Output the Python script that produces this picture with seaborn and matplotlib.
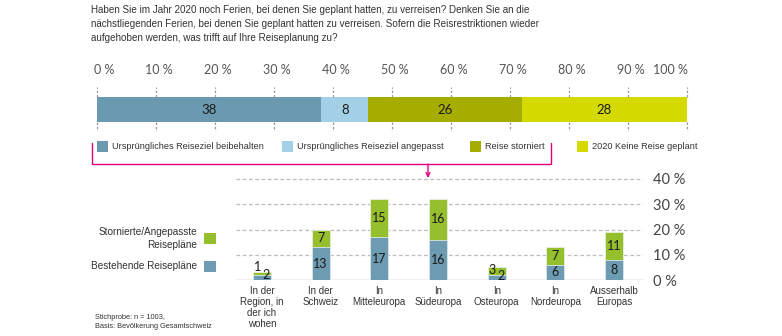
import numpy as np
import pandas as pd
import matplotlib
matplotlib.use("Agg")
import matplotlib.pyplot as plt
from matplotlib.patches import Rectangle
import seaborn as sns

# ---------------- data ----------------
title_text = ("Haben Sie im Jahr 2020 noch Ferien, bei denen Sie geplant hatten, zu verreisen? Denken Sie an die\n"
              "nächstliegenden Ferien, bei denen Sie geplant hatten zu verreisen. Sofern die Reisrestriktionen wieder\n"
              "aufgehoben werden, was trifft auf Ihre Reiseplanung zu?")
top_labels = ["Ursprüngliches Reiseziel beibehalten", "Ursprüngliches Reiseziel angepasst",
              "Reise storniert", "2020 Keine Reise geplant"]
top_values = [38, 8, 26, 28]
top_ticks = [0, 10, 20, 30, 40, 50, 60, 70, 80, 90, 100]

categories = ["In der\nRegion, in\nder ich\nwohen", "In der\nSchweiz", "In\nMitteleuropa", "In\nSüdeuropa",
              "In\nOsteuropa", "In\nNordeuropa", "Ausserhalb\nEuropas"]
bestehende = [2, 13, 17, 16, 2, 6, 8]
stornierte = [1, 7, 15, 16, 3, 7, 11]
bottom_ticks = [0, 10, 20, 30, 40]
legend_bottom = ["Stornierte/Angepasste\nReisepläne", "Bestehende Reisepläne"]
footnote = "Stichprobe: n = 1003,\nBasis: Bevölkerung Gesamtschweiz"

# ---------------- style ----------------
top_colors = ["#6b9ab0", "#a3d0e6", "#a6ac00", "#d4d900"]
c_blue = "#6d9bb1"
c_green = "#96bf2d"
pink = "#e6007e"
txt = "#333333"
W, H = 782, 336
# label nudges for the tiny bars: index -> (dx, y_green, y_blue) in data units
small_label_pos = {0: (0.068, 5.0, 1.9), 4: (0.075, 4.0, 1.5)}

sns.set_theme(style="white")
plt.rcParams["font.family"] = ["Liberation Sans Narrow", "Liberation Sans", "DejaVu Sans"]
NUM = ["Lato", "DejaVu Sans"]

fig = plt.figure(figsize=(W / 100, H / 100), dpi=100)


def fbox(x0, y0, x1, y1):
    return [x0 / W, 1 - y1 / H, (x1 - x0) / W, (y1 - y0) / H]


# ---------------- top stacked bar ----------------
ax_t = fig.add_axes(fbox(97, 97, 687, 122))
cum = np.cumsum(top_values)
for i in reversed(range(len(top_values))):
    sns.barplot(x=[cum[i]], y=[0], orient="h", color=top_colors[i], width=1.0,
                saturation=1, linewidth=0, ax=ax_t)
ax_t.set_xlim(0, 100)
ax_t.set_ylim(0.5, -0.5)
ax_t.axis("off")
for i, v in enumerate(top_values):
    ax_t.text(cum[i] - v / 2, 0, str(v), ha="center", va="center", fontsize=9.5,
              color="#1a1a1a", family=NUM)
for t in top_ticks:
    ax_t.plot([t, t], [-0.5, -0.92], color="#999999",
              lw=0.9, ls=(0, (2, 1.5)), clip_on=False)
    ax_t.plot([t, t], [0.5, 0.85], color="#999999",
              lw=0.9, ls=(0, (2, 1.5)), clip_on=False)

# ---------------- bottom stacked bars ----------------
ax_b = fig.add_axes(fbox(236, 280 - 42 * 2.525, 643, 280))
df = pd.DataFrame({"cat": categories, "best": bestehende, "storn": stornierte})
df["total"] = df["best"] + df["storn"]
sns.barplot(data=df, x="cat", y="total", color=c_green, width=0.31, saturation=1,
            linewidth=0.6, edgecolor="#e8efe0", ax=ax_b, zorder=3)
sns.barplot(data=df, x="cat", y="best", color=c_blue, width=0.31, saturation=1,
            linewidth=0.6, edgecolor="#dde8ee", ax=ax_b, zorder=3)
ax_b.set_xlim(-0.444, 6.495)
ax_b.set_ylim(0, 42)
for s in ax_b.spines.values():
    s.set_visible(False)
for y in bottom_ticks[1:]:
    ax_b.axhline(y, color="#bdbdbd", lw=0.9, ls=(0, (3, 2)), zorder=0)
ax_b.axhline(0, color="#b0b0b0", lw=1.0, zorder=1)
ax_b.yaxis.tick_right()
ax_b.set_yticks(bottom_ticks)
ax_b.set_yticklabels([f"{t} %" for t in bottom_ticks], fontsize=10.5, color="#444444", family=NUM)
ax_b.tick_params(axis="y", length=0, pad=7)
ax_b.set_xlabel("")
ax_b.set_ylabel("")
ax_b.set_xticks(range(len(categories)))
ax_b.set_xticklabels(categories, fontsize=7, color=txt, linespacing=1.15)
ax_b.tick_params(axis="x", length=0, pad=4)
ax_b.grid(False)

# value labels
for i in range(len(categories)):
    b, s = bestehende[i], stornierte[i]
    if i in small_label_pos:
        dx, yg, yb = small_label_pos[i]
        ax_b.text(i - dx, yg, str(s), ha="center", va="center", fontsize=9,
                  color="#1a1a1a", family=NUM, zorder=5)
        ax_b.text(i + dx, yb, str(b), ha="center", va="center", fontsize=9,
                  color="#1a1a1a", family=NUM, zorder=5)
    else:
        ax_b.text(i, b / 2, str(b), ha="center", va="center", fontsize=9,
                  color="#1a1a1a", family=NUM, zorder=5)
        ax_b.text(i, b + s / 2, str(s), ha="center", va="center", fontsize=9,
                  color="#1a1a1a", family=NUM, zorder=5)

# ---------------- overlay for text & decorations ----------------
ov = fig.add_axes([0, 0, 1, 1], facecolor="none")
ov.set_xlim(0, W)
ov.set_ylim(H, 0)
ov.axis("off")

ov.text(91, 5, title_text, ha="left", va="top", fontsize=7.1, color=txt, linespacing=1.5)

# top tick labels
for t in top_ticks:
    x = 97 + t * 5.9
    if t == 0:
        ov.text(x - 3, 70, f"{t} %", ha="left", va="center", fontsize=9, color="#555555", family=NUM)
    elif t == 100:
        ov.text(x + 1, 70, f"{t} %", ha="right", va="center", fontsize=9, color="#555555", family=NUM)
    else:
        ov.text(x + 3, 70, f"{t} %", ha="center", va="center", fontsize=9, color="#555555", family=NUM)

# top legend
leg_x = [97, 282, 470, 577]
for lx, lab, col in zip(leg_x, top_labels, top_colors):
    ov.add_patch(Rectangle((lx, 141), 11, 11, color=col, lw=0))
    ov.text(lx + 15, 146.5, lab, ha="left", va="center", fontsize=6.6, color=txt)

# pink bracket + arrow
ov.plot([92, 92, 551, 551], [143, 164, 164, 143], color=pink, lw=1.0, solid_joinstyle="miter")
ov.annotate("", xy=(428, 178), xytext=(428, 164),
            arrowprops=dict(arrowstyle="->", color=pink, lw=1.0, shrinkA=0, shrinkB=0,
                            mutation_scale=7))

# bottom legend
ov.text(197, 238.5, legend_bottom[0], ha="right", va="center", fontsize=7.2, color=txt,
        multialignment="right", linespacing=1.4)
ov.add_patch(Rectangle((204, 233), 12, 11, color=c_green, lw=0))
ov.text(197, 266, legend_bottom[1], ha="right", va="center", fontsize=7.2, color=txt)
ov.add_patch(Rectangle((204, 261), 12, 11, color=c_blue, lw=0))

# footnote
ov.text(95, 322, footnote, ha="left", va="center", fontsize=5.3, color=txt, linespacing=1.5)

fig.savefig("out.png", dpi=100)
